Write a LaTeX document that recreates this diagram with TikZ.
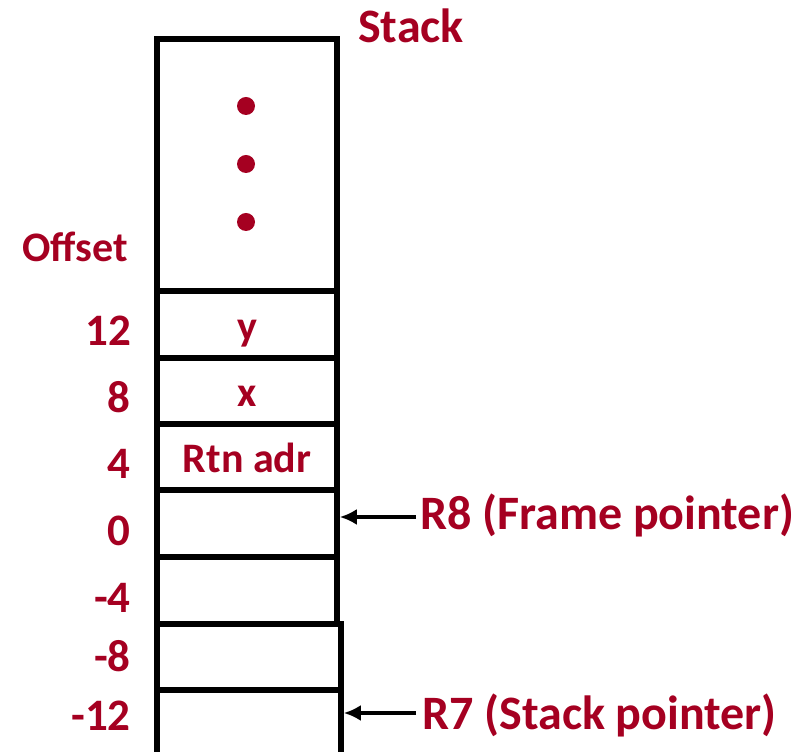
\documentclass[tikz,border=0pt]{standalone}
\usepackage{fontspec}
\setmainfont{Carlito}
\usetikzlibrary{arrows.meta}
\definecolor{stackred}{RGB}{165,0,33}
\begin{document}
\begin{tikzpicture}[x=1pt,y=1pt,
  cell/.style={draw=black,line width=5.5pt,minimum width=180pt,inner sep=0pt,
    text=stackred,font=\fontsize{42}{42}\selectfont\bfseries,
    text height=32pt,text depth=0pt},
  offs/.style={anchor=base east,inner sep=0pt,text=stackred,
    font=\fontsize{45}{45}\selectfont\bfseries},
  big/.style={inner sep=0pt,text=stackred,font=\fontsize{48}{48}\selectfont\bfseries},
  dotmark/.style={circle,fill=stackred,inner sep=0pt,minimum size=18pt},
  ptr/.style={line width=4.5pt,-{Latex[length=17pt,width=16pt]}}]
\useasboundingbox (0,0) rectangle (798,752);
% stack cells (heights from the frame layout)
\node[cell,minimum height=252pt] (ctop) at (247,752-165) {};
\node[cell,minimum height=67pt] (cy)   at (247,752-324.5) {y};
\node[cell,minimum height=66pt] (cx)   at (247,752-391) {x};
\node[cell,minimum height=66pt] (crtn) at (247,752-457) {Rtn adr};
\node[cell,minimum height=67pt] (c0)   at (247,752-523.5) {};
\node[cell,minimum height=67pt] (cm4)  at (247,752-590.5) {};
\node[cell,minimum height=66pt,minimum width=184pt] (cm8) at (249,752-657) {};
\node[cell,minimum height=100pt,minimum width=184pt] (cm12) at (249,752-740) {};
% continuation dots
\node[dotmark] (d1) at (246,752-106) {};
\node[dotmark] (d2) at (246,752-164) {};
\node[dotmark] (d3) at (246,752-222) {};
% titles
\node[big,anchor=base west] (title) at (358,752-43) {Stack};
\node[inner sep=0pt,anchor=base west,text=stackred,
  font=\fontsize{42}{42}\selectfont\bfseries] (offset) at (22,752-262) {Offset};
% offsets
\node[offs] (o12) at (131,752-346) {12};
\node[offs] (o8)  at (131,752-413) {8};
\node[offs] (o4)  at (131,752-479) {4};
\node[offs] (o0)  at (131,752-546) {0};
\node[offs] (om4) at (131,752-613) {-4};
\node[offs] (om8) at (131,752-672) {-8};
\node[offs] (om12) at (131,752-731) {-12};
% register pointers
\node[big,anchor=west] (r8) at (420,752-515) {R8 (Frame pointer)};
\node[big,anchor=west] (r7) at (422,752-715) {R7 (Stack pointer)};
\draw[ptr] (r8.west) ++(-4,-2) coordinate (r8s) -- (r8s -| c0.east);
\draw[ptr] (r7.west) ++(-6,2) coordinate (r7s) -- (r7s -| cm12.east);
\end{tikzpicture}
\end{document}
